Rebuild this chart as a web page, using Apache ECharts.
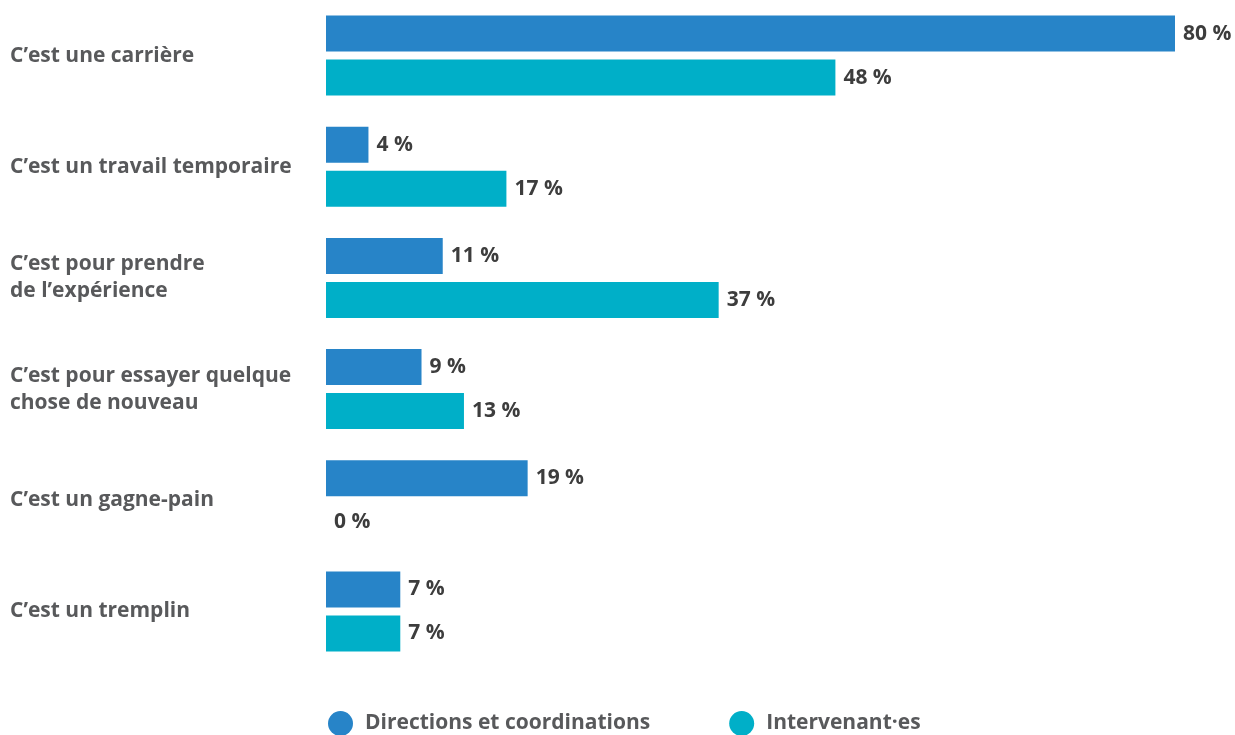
<!DOCTYPE html>
<html><head><meta charset="utf-8">
<script src="https://cdn.jsdelivr.net/npm/echarts@6/dist/echarts.min.js"></script>
<style>html,body{margin:0;padding:0;background:#fff}#c{width:1235px;height:735px}</style>
</head><body><div id="c"></div>
<script>
const categories = ["C’est une carrière","C’est un travail temporaire","C’est pour prendre\nde l’expérience","C’est pour essayer quelque\nchose de nouveau","C’est un gagne-pain","C’est un tremplin"];
const seriesNames = ["Directions et coordinations","Intervenant·es"];
const directions = [80,4,11,9,19,7];
const intervenants = [48,17,37,13,0,7];
const colors = ["#2784c8","#00afc8"];
const chart = echarts.init(document.getElementById('c'));
const lbl = {show:true,position:'right',distance:8,formatter:p=>p.value+' %',fontFamily:'Open Sans',fontWeight:'bold',fontSize:21,color:'#3d3d3d'};
chart.setOption({
  animation:false,
  textStyle:{fontFamily:'Open Sans'},
  grid:{left:326,right:60,top:-3,height:670,containLabel:false},
  xAxis:{type:'value',min:0,max:80,show:false},
  yAxis:{type:'category',data:categories,inverse:true,axisLine:{show:false},axisTick:{show:false},
    axisLabel:{align:'left',margin:316,fontFamily:'Open Sans',fontWeight:'bold',fontSize:21,color:'#58595b',lineHeight:27}},
  legend:{left:323,top:706,icon:'circle',itemWidth:25,itemHeight:25,itemGap:79,
    textStyle:{fontFamily:'Open Sans',fontWeight:'bold',fontSize:21,color:'#58595b',padding:[0,0,0,7]},data:seriesNames},
  series:[
    {name:seriesNames[0],type:'bar',data:directions,barWidth:36,barGap:'22%',itemStyle:{color:colors[0]},label:lbl},
    {name:seriesNames[1],type:'bar',data:intervenants,barWidth:36,itemStyle:{color:colors[1]},label:lbl}
  ]
});
</script></body></html>
